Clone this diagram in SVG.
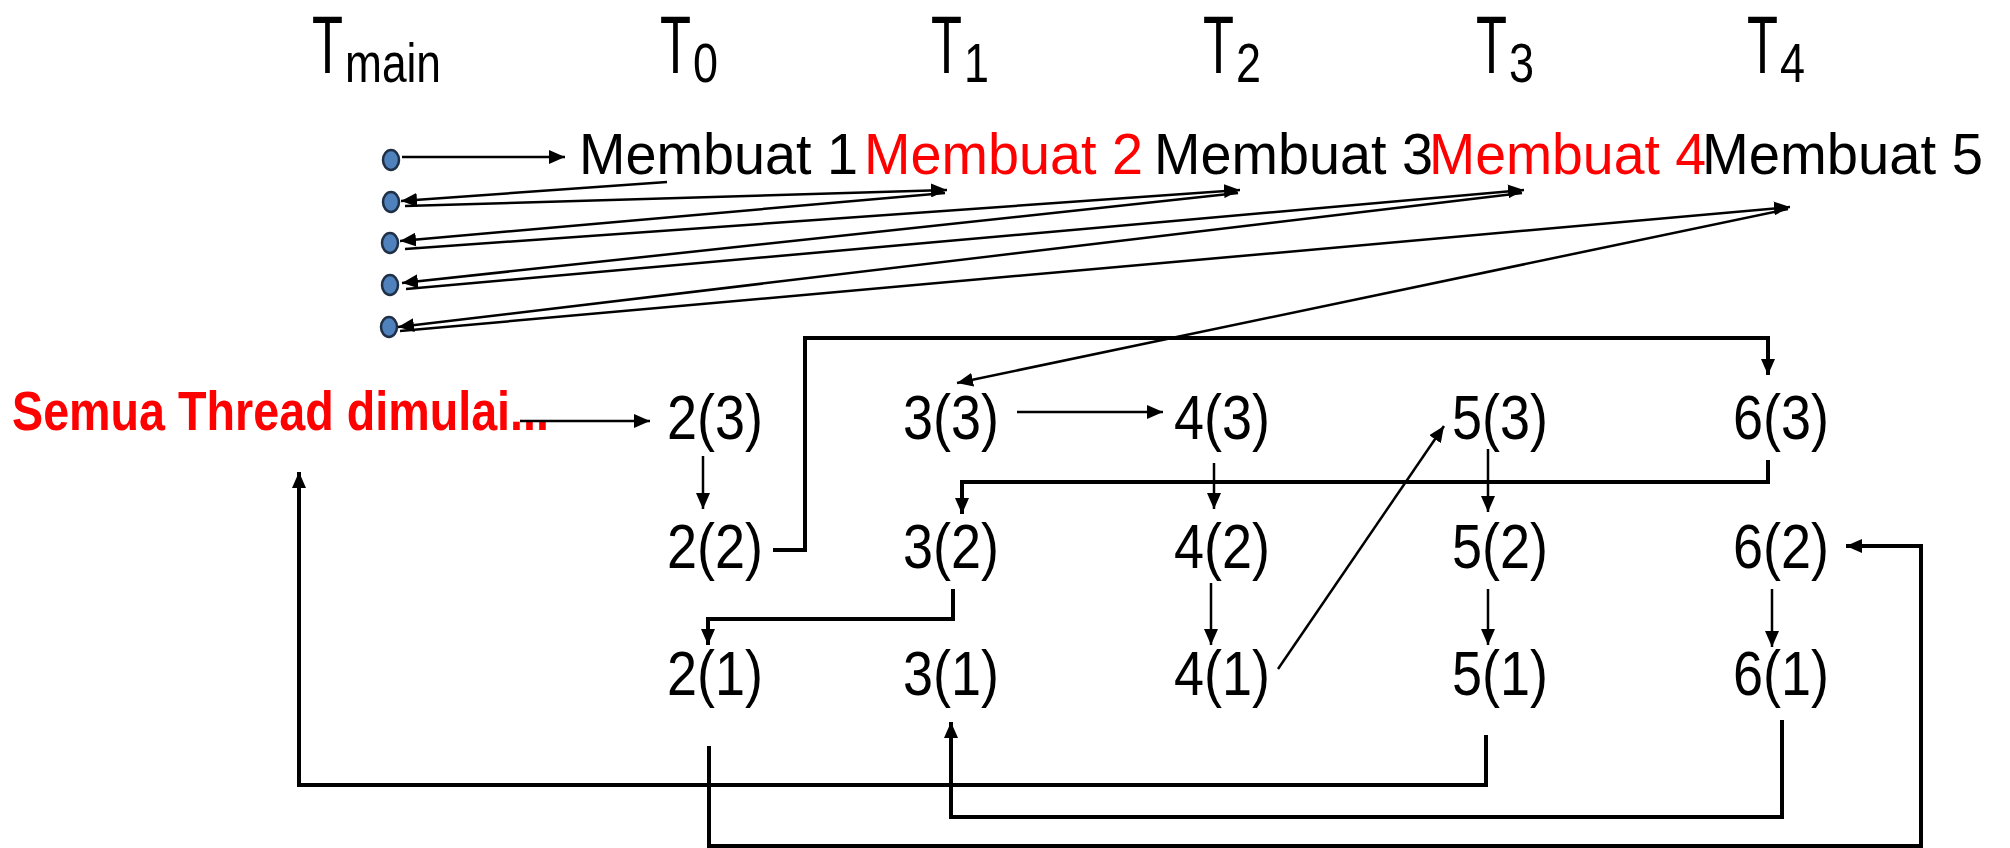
<svg xmlns="http://www.w3.org/2000/svg" width="2010" height="848" viewBox="0 0 2010 848">
<style>
  .t { font-family: "Liberation Sans Narrow", "Liberation Sans", Arial, sans-serif; fill: #000; }
  .hd { font-size: 81px; }
  .sub { font-size: 56px; }
  .mb { font-size: 57px; }
  .nd { font-size: 63px; }
  .red { fill: #FF0000; }
  .sm { font-family: "Liberation Sans Narrow", "Liberation Sans", Arial, sans-serif; font-weight: bold; font-size: 55px; fill: #FF0000; }
  .ln { fill: none; stroke: #000; stroke-width: 2.5; }
  .th { fill: none; stroke: #000; stroke-width: 4; }
  .dot { fill: #4F81BD; stroke: #1F2F45; stroke-width: 2.5; }
</style>
<defs>
  <marker id="ah" markerUnits="userSpaceOnUse" markerWidth="16" markerHeight="14" refX="16" refY="7" orient="auto">
    <path d="M0,0 L16,7 L0,14 z" fill="#000"/>
  </marker>
</defs>

<g id="headers">
  <text class="t hd"><tspan x="312" y="73" textLength="31" lengthAdjust="spacingAndGlyphs">T</tspan><tspan class="sub" x="345" y="82" textLength="96" lengthAdjust="spacingAndGlyphs">main</tspan></text>
  <text class="t hd"><tspan x="660" y="73" textLength="31" lengthAdjust="spacingAndGlyphs">T</tspan><tspan class="sub" x="693" y="82" textLength="25" lengthAdjust="spacingAndGlyphs">0</tspan></text>
  <text class="t hd"><tspan x="931" y="73" textLength="31" lengthAdjust="spacingAndGlyphs">T</tspan><tspan class="sub" x="964" y="82" textLength="25" lengthAdjust="spacingAndGlyphs">1</tspan></text>
  <text class="t hd"><tspan x="1203" y="73" textLength="31" lengthAdjust="spacingAndGlyphs">T</tspan><tspan class="sub" x="1236" y="82" textLength="25" lengthAdjust="spacingAndGlyphs">2</tspan></text>
  <text class="t hd"><tspan x="1476" y="73" textLength="31" lengthAdjust="spacingAndGlyphs">T</tspan><tspan class="sub" x="1509" y="82" textLength="25" lengthAdjust="spacingAndGlyphs">3</tspan></text>
  <text class="t hd"><tspan x="1747" y="73" textLength="31" lengthAdjust="spacingAndGlyphs">T</tspan><tspan class="sub" x="1780" y="82" textLength="25" lengthAdjust="spacingAndGlyphs">4</tspan></text>
</g>

<g id="main-dots">
  <ellipse class="dot" cx="391" cy="160" rx="8" ry="10"/>
  <ellipse class="dot" cx="391" cy="202" rx="8" ry="10"/>
  <ellipse class="dot" cx="390" cy="243" rx="8" ry="10"/>
  <ellipse class="dot" cx="390" cy="285" rx="8" ry="10"/>
  <ellipse class="dot" cx="389" cy="327" rx="8" ry="10"/>
</g>

<g id="membuat-1"><text class="t mb" x="579" y="174" textLength="279" lengthAdjust="spacingAndGlyphs">Membuat 1</text></g>
<g id="membuat-2"><text class="t mb red" x="864" y="174" textLength="279" lengthAdjust="spacingAndGlyphs">Membuat 2</text></g>
<g id="membuat-3"><text class="t mb" x="1154" y="174" textLength="279" lengthAdjust="spacingAndGlyphs">Membuat 3</text></g>
<g id="membuat-4"><text class="t mb red" x="1429" y="174" textLength="277" lengthAdjust="spacingAndGlyphs">Membuat 4</text></g>
<g id="membuat-5"><text class="t mb" x="1702" y="174" textLength="281" lengthAdjust="spacingAndGlyphs">Membuat 5</text></g>

<g id="semua"><text class="sm" x="12" y="430" textLength="537" lengthAdjust="spacingAndGlyphs">Semua Thread dimulai...</text></g>

<g id="n-2-3"><text class="t nd" x="667" y="439" textLength="96" lengthAdjust="spacingAndGlyphs">2(3)</text></g>
<g id="n-3-3"><text class="t nd" x="903" y="439" textLength="96" lengthAdjust="spacingAndGlyphs">3(3)</text></g>
<g id="n-4-3"><text class="t nd" x="1174" y="439" textLength="96" lengthAdjust="spacingAndGlyphs">4(3)</text></g>
<g id="n-5-3"><text class="t nd" x="1452" y="439" textLength="96" lengthAdjust="spacingAndGlyphs">5(3)</text></g>
<g id="n-6-3"><text class="t nd" x="1733" y="439" textLength="96" lengthAdjust="spacingAndGlyphs">6(3)</text></g>

<g id="n-2-2"><text class="t nd" x="667" y="568" textLength="96" lengthAdjust="spacingAndGlyphs">2(2)</text></g>
<g id="n-3-2"><text class="t nd" x="903" y="568" textLength="96" lengthAdjust="spacingAndGlyphs">3(2)</text></g>
<g id="n-4-2"><text class="t nd" x="1174" y="568" textLength="96" lengthAdjust="spacingAndGlyphs">4(2)</text></g>
<g id="n-5-2"><text class="t nd" x="1452" y="568" textLength="96" lengthAdjust="spacingAndGlyphs">5(2)</text></g>
<g id="n-6-2"><text class="t nd" x="1733" y="568" textLength="96" lengthAdjust="spacingAndGlyphs">6(2)</text></g>

<g id="n-2-1"><text class="t nd" x="667" y="695" textLength="96" lengthAdjust="spacingAndGlyphs">2(1)</text></g>
<g id="n-3-1"><text class="t nd" x="903" y="695" textLength="96" lengthAdjust="spacingAndGlyphs">3(1)</text></g>
<g id="n-4-1"><text class="t nd" x="1174" y="695" textLength="96" lengthAdjust="spacingAndGlyphs">4(1)</text></g>
<g id="n-5-1"><text class="t nd" x="1452" y="695" textLength="96" lengthAdjust="spacingAndGlyphs">5(1)</text></g>
<g id="n-6-1"><text class="t nd" x="1733" y="695" textLength="96" lengthAdjust="spacingAndGlyphs">6(1)</text></g>

<g id="connectors">
  <line class="ln" x1="402" y1="157" x2="565" y2="157" marker-end="url(#ah)"/>
  <line class="ln" x1="667" y1="182" x2="401" y2="201" marker-end="url(#ah)"/>
  <line class="ln" x1="405" y1="206" x2="947" y2="190" marker-end="url(#ah)"/>
  <line class="ln" x1="945" y1="193" x2="400" y2="241" marker-end="url(#ah)"/>
  <line class="ln" x1="405" y1="249" x2="1240" y2="190" marker-end="url(#ah)"/>
  <line class="ln" x1="1238" y1="193" x2="402" y2="283" marker-end="url(#ah)"/>
  <line class="ln" x1="406" y1="289" x2="1524" y2="190" marker-end="url(#ah)"/>
  <line class="ln" x1="1522" y1="193" x2="398" y2="327" marker-end="url(#ah)"/>
  <line class="ln" x1="400" y1="331" x2="1790" y2="207" marker-end="url(#ah)"/>
  <line class="ln" x1="1788" y1="209" x2="957" y2="383" marker-end="url(#ah)"/>

  <line class="ln" x1="520" y1="421" x2="650" y2="421" marker-end="url(#ah)"/>
  <line class="ln" x1="703" y1="456" x2="703" y2="509" marker-end="url(#ah)"/>
  <polyline class="th" points="773,550 805,550 805,338 1768,338 1768,375" marker-end="url(#ah)"/>
  <line class="ln" x1="1017" y1="412" x2="1163" y2="412" marker-end="url(#ah)"/>
  <polyline class="th" points="1768,460 1768,482 962,482 962,514" marker-end="url(#ah)"/>
  <line class="ln" x1="1214" y1="463" x2="1214" y2="509" marker-end="url(#ah)"/>
  <line class="ln" x1="1488" y1="449" x2="1488" y2="512" marker-end="url(#ah)"/>
  <polyline class="th" points="953,589 953,619 708,619 708,645" marker-end="url(#ah)"/>
  <line class="ln" x1="1211" y1="583" x2="1211" y2="645" marker-end="url(#ah)"/>
  <line class="ln" x1="1488" y1="589" x2="1488" y2="645" marker-end="url(#ah)"/>
  <line class="ln" x1="1772" y1="589" x2="1772" y2="647" marker-end="url(#ah)"/>
  <line class="ln" x1="1278" y1="669" x2="1444" y2="426" marker-end="url(#ah)"/>

  <polyline class="th" points="1486,735 1486,785 299,785 299,472" marker-end="url(#ah)"/>
  <polyline class="th" points="1782,720 1782,817 951,817 951,722" marker-end="url(#ah)"/>
  <polyline class="th" points="709,746 709,846 1921,846 1921,546 1846,546" marker-end="url(#ah)"/>
</g>
</svg>
